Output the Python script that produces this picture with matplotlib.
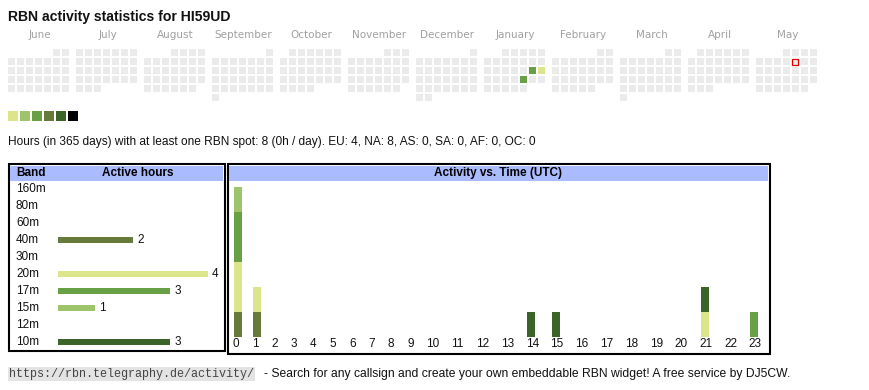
import calendar
import datetime as dt
import numpy as np
import matplotlib
matplotlib.use('Agg')
import matplotlib.pyplot as plt
from matplotlib.patches import Rectangle

plt.rcParams['font.family'] = ['Liberation Sans', 'DejaVu Sans']

# --- data ---
callsign = 'HI59UD'
first_month = dt.date(2024, 6, 1)
today = dt.date(2025, 5, 9)

active_dates = [dt.date(2025, 1, 18), dt.date(2025, 1, 19), dt.date(2025, 1, 24)]
active_levels = [2, 0, 2]
level_colors = ['#dce48c', '#9dc46a', '#68a045', '#667a3a', '#3b6428', '#000000']

bands = ['160m', '80m', '60m', '40m', '30m', '20m', '17m', '15m', '12m', '10m']
band_hours = [0, 0, 0, 2, 0, 4, 3, 1, 0, 3]
band_colors = ['#888888', '#888888', '#888888', '#667a3a', '#888888',
               '#dce48c', '#68a045', '#9dc46a', '#888888', '#3b6428']

hours = list(range(24))
# active hours per UTC hour, stacked from low band to high band
act_40m = [1, 1, 0, 0, 0, 0, 0, 0, 0, 0, 0, 0, 0, 0, 0, 0, 0, 0, 0, 0, 0, 0, 0, 0]
act_20m = [2, 1, 0, 0, 0, 0, 0, 0, 0, 0, 0, 0, 0, 0, 0, 0, 0, 0, 0, 0, 0, 1, 0, 0]
act_17m = [2, 0, 0, 0, 0, 0, 0, 0, 0, 0, 0, 0, 0, 0, 0, 0, 0, 0, 0, 0, 0, 0, 0, 1]
act_15m = [1, 0, 0, 0, 0, 0, 0, 0, 0, 0, 0, 0, 0, 0, 0, 0, 0, 0, 0, 0, 0, 0, 0, 0]
act_10m = [0, 0, 0, 0, 0, 0, 0, 0, 0, 0, 0, 0, 0, 0, 1, 1, 0, 0, 0, 0, 0, 1, 0, 0]
stack = [('40m', act_40m), ('20m', act_20m), ('17m', act_17m),
         ('15m', act_15m), ('10m', act_10m)]

stats_text = ('Hours (in 365 days) with at least one RBN spot: 8 (0h / day). '
              'EU: 4, NA: 8, AS: 0, SA: 0, AF: 0, OC: 0')
url = 'https://rbn.telegraphy.de/activity/'
footer = '- Search for any callsign and create your own embeddable RBN widget! A free service by DJ5CW.'

# --- page layout (pixel coordinates) ---
W, H = 870, 390
fig = plt.figure(figsize=(W / 100, H / 100), dpi=100)
page = fig.add_axes([0, 0, 1, 1])
page.set_xlim(0, W)
page.set_ylim(H, 0)
page.axis('off')


def frac(x0, y0, x1, y1):
    return [x0 / W, 1 - y1 / H, (x1 - x0) / W, (y1 - y0) / H]


page.text(8, 17, 'RBN activity statistics for ' + callsign, fontsize=10.1,
          fontweight='bold', va='center', ha='left', color='#111111')

# calendar heatmap, one 7-column block per month (weeks start Monday)
level_of = dict(zip(active_dates, active_levels))
for m in range(12):
    yr = first_month.year + (first_month.month - 1 + m) // 12
    mo = (first_month.month - 1 + m) % 12 + 1
    first = dt.date(yr, mo, 1)
    left = 8 + 68 * m
    page.text(left + 31.5, 35, calendar.month_name[mo], fontsize=7.5,
              family='DejaVu Sans', color='#a0a0a0', ha='center', va='center')
    for d in range(1, calendar.monthrange(yr, mo)[1] + 1):
        day = dt.date(yr, mo, d)
        idx = d - 1 + first.weekday()
        col, row = idx % 7, idx // 7
        fc = level_colors[level_of[day]] if day in level_of else '#ebebeb'
        if day == today:
            page.add_patch(Rectangle((left + 9 * col + 0.5, 49 + 9 * row + 0.5), 6, 6,
                                     facecolor=fc, edgecolor='#e00000', lw=0.9))
        else:
            page.add_patch(Rectangle((left + 9 * col, 49 + 9 * row), 7, 7,
                                     facecolor=fc, edgecolor='none'))

for i, c in enumerate(level_colors):
    page.add_patch(Rectangle((8 + 12 * i, 111), 10, 10, facecolor=c, edgecolor='none'))

page.text(8, 142, stats_text, fontsize=8.6, va='center', ha='left', color='#111111')

# table frames and headers
page.add_patch(Rectangle((9, 164), 216, 187, facecolor='none', edgecolor='black', lw=1.5))
page.add_patch(Rectangle((228, 164), 542, 190, facecolor='none', edgecolor='black', lw=1.5))
page.add_patch(Rectangle((10.5, 165.5), 213, 15, facecolor='#aabbff', edgecolor='none'))
page.add_patch(Rectangle((229.5, 165.5), 539, 15, facecolor='#aabbff', edgecolor='none'))
page.text(16, 173, 'Band', fontsize=8.5, fontweight='bold', va='center')
page.text(138, 173, 'Active hours', fontsize=8.5, fontweight='bold', va='center', ha='center')
page.text(498, 173, 'Activity vs. Time (UTC)', fontsize=8.5, fontweight='bold',
          va='center', ha='center')

# --- band bars ---
px_per_hour = 37.5
bax = fig.add_axes(frac(10, 181, 224, 350))
bax.set_xlim(-48 / px_per_hour, 166 / px_per_hour)
bax.set_ylim(9.47, -0.47)
bax.axis('off')
bax.barh(range(len(bands)), band_hours, height=0.41, color=band_colors, lw=0)
for i, (b, v) in enumerate(zip(bands, band_hours)):
    bax.text(-42 / px_per_hour, i, b, fontsize=8.5, va='center', ha='left', color='#111111')
    if v:
        bax.text(v + 4 / px_per_hour, i, str(v), fontsize=8.5, va='center', ha='left',
                 color='#111111')

# --- activity vs time ---
col_w = np.array([19.4 if h < 10 else 24.8 for h in hours])
lefts = 234 + np.cumsum(col_w) - col_w
hax = fig.add_axes(frac(228, 181, 769, 351))
hax.set_xlim(228, 769)
hax.set_ylim(-0.56, 6.24)
hax.axis('off')
bottom = np.zeros(24)
for name, vals in stack:
    hax.bar(lefts, vals, width=8, bottom=bottom, align='edge',
            color=band_colors[bands.index(name)], lw=0)
    bottom += np.array(vals)
for h, x in zip(hours, lefts):
    hax.text(x - 1.5, -0.28, str(h), fontsize=8.5, va='center', ha='left', color='#111111')

# --- footer ---
page.text(9, 374, url, family='Liberation Mono', fontsize=8.5, va='center', ha='left',
          color='#444444', bbox=dict(facecolor='#e3e3e3', edgecolor='none', pad=1.0))
page.text(264, 374, footer, fontsize=8.7, va='center', ha='left', color='#111111')

fig.savefig('out.png', dpi=100)
